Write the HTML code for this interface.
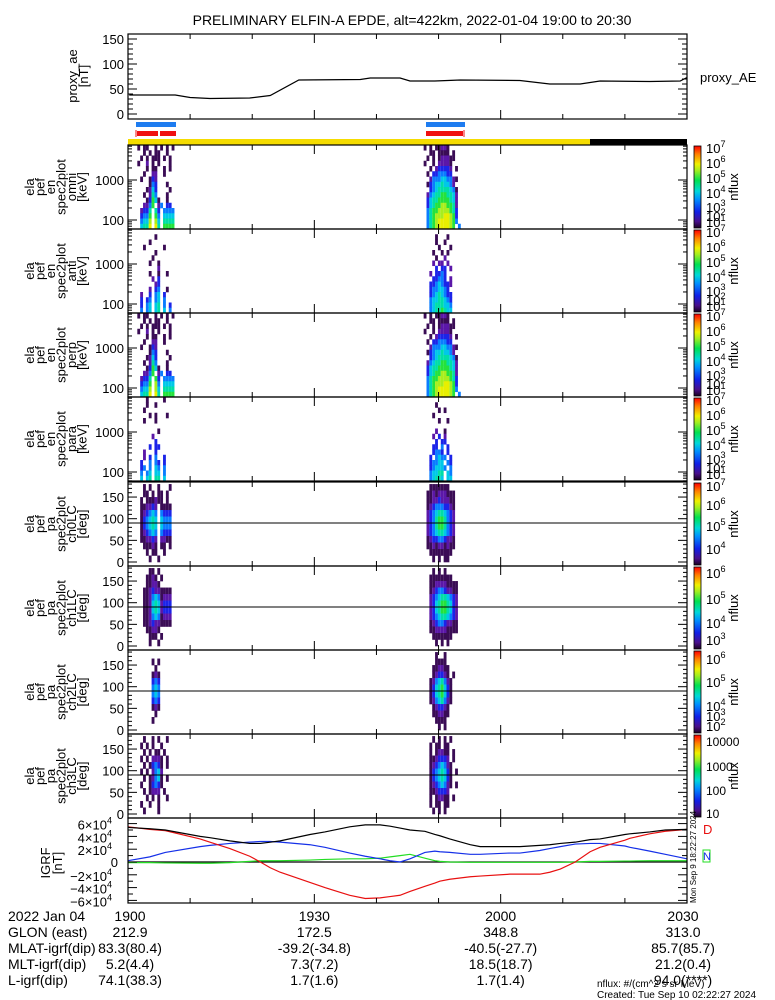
<!DOCTYPE html>
<html><head><meta charset="utf-8">
<style>
html,body{margin:0;padding:0;background:#fff;}
svg{display:block;font-family:"Liberation Sans",sans-serif;}
</style></head>
<body>
<svg id="chart" width="775" height="1000" viewBox="0 0 775 1000" xmlns="http://www.w3.org/2000/svg">
<rect x="0" y="0" width="775" height="1000" fill="#fff"/>
<text x="412" y="25" font-size="14" text-anchor="middle">PRELIMINARY ELFIN-A EPDE, alt=422km, 2022-01-04 19:00 to 20:30</text>
</svg>
<script>
// ---------------- data ----------------
const aeTimes = [0.2,7.6,10,13.2,19.6,22.9,27.5,37.4,39,43.8,45.4,49.4,53.5,63.1,67.9,72.8,76,84,88.9,90];
const aeValues = [38,38,33,31,32,37,68,69,72,72,66,66,68,67,60,60,66,65,66,73];

const igrfTimes = [0,3.5,6,11.6,13.2,16.4,19.6,21.3,22.9,24.5,29.3,31.7,35.7,38.2,40.6,42.2,43.8,45.4,47.8,49.4,50.2,51.8,55.1,56.7,61.5,63.1,66.3,67.9,69.6,72,74.4,76,80,80.8,84,86.5,90];
const igrfTotal = [5.4,5.2,5.0,4.0,3.8,3.3,2.9,2.9,3.1,3.3,4.3,4.7,5.5,5.8,5.8,5.6,5.3,5.0,4.8,4.3,4.1,3.6,2.7,2.4,2.4,2.4,2.6,2.7,2.9,3.1,3.5,3.6,4.3,4.4,4.7,5.0,5.1];
const igrfD = [5.5,5.1,4.9,3.6,3.1,2.1,0.9,0,-0.9,-1.6,-3.2,-4.0,-5.2,-5.7,-5.6,-5.4,-5.2,-4.6,-3.8,-3.3,-3.0,-2.7,-2.3,-2.2,-1.9,-1.9,-1.9,-1.6,-1.1,0,1.6,2.3,3.4,3.7,4.4,4.8,5.1];
const igrfBlue = [0.2,0.8,1.5,2.4,2.6,2.9,3.1,3.2,3.2,3.1,2.7,2.3,1.4,0.9,0.5,0.2,0,0.5,1.5,1.7,1.6,1.5,1.2,1.2,1.4,1.4,1.8,2.1,2.4,2.8,2.9,2.9,2.5,2.3,1.7,1.2,0.5];
const igrfGreen = [-0.1,-0.1,-0.15,-0.2,-0.2,-0.1,0.1,0.2,0.2,0.2,0.3,0.4,0.5,0.5,0.6,0.8,1.0,1.2,0.6,0.2,0.1,0,-0.05,-0.05,-0.05,-0.05,-0.05,-0.05,-0.05,0,0.1,0.1,0.15,0.15,0.2,0.2,0.2];

const igrfTicks = [-6,-4,-2,0,2,4,6];
const aeTicks = [0,50,100,150];
const energyTicks = [100,1000];
const paTicks = [0,50,100,150];
const timeMajors = [0,30,60,90];
const timeLabels = ["1900","1930","2000","2030"];

const passStart = [1.5, 47.6];   // minutes after 19:00 of first column per pass
const colDur = 0.46;             // minutes per spin column

const omniP1 = ["1.11..1.1.1.1","..1.1.11..1..",".1.1.111.1.1.","1..2.1.1...1.","...1.11..1.1.","..1..22..1...",".1..132......","....143...1..","...1253....1.","..1.264...1..","...13751..1..","..2247.24.33.",".2336.63.4444",".3447.74.5555",".4558.85.6666",".5669.96.7777"];
const omniP2 = ["1.1.11221....","..11.1111.1..",".1.1.122211..","1..1.22221...","..1.233332.1.",".1.3344433...","..2444554421.",".1345565542..","..3456666541.",".24566776652.",".35667777652.",".35677887762.",".46778888763.",".46788899873.",".46789999874.",".4678999987.4"];
const antiP1 = [".............","......1......","....1........","..1......1...","......1......",".....1.......","....1..1.....",".......2.....","....1..1..1..",".....2.3.....","......23.....","....2.34..1..",".2..3.45.3...",".3.34.45.4...",".3.45.56.4.3.",".4.45.56.5.4."];
const antiP2 = [".............","....1...1....","....1..1.....",".....1...1...","...1..1.1....","....1..2.....","...2.22.2....","....3.33.2...","..2.3343.....","...33443.2...","..33454332...","..3445543....","..34565433...","..45566543...","..45666554...","..45667655..."];
const perpP1 = ["1.11..1.1.1.1","..1.1.11..1..",".1.1.111.1.1.","1..2.1.1...1.","...1.11..1.1.","..1..22..1...",".1..132......","....143...1..","...1253....1.","..1.264...1..","...13751..1..","..2247.24.33.",".2336.73.4444",".3447.84.5555",".4558.85.6666",".5669.96.7777"];
const perpP2 = ["1.1.11221....","..11.1111.1..",".1.1.122211..","1..1.22221...","..1.233332.1.",".1.3344433...","..2444554421.",".1345565542..","..3456666541.",".24566776652.",".35667777652.",".35677887762.",".46778888763.",".46788899873.",".46789999874.",".4678999987.4"];
const paraP1 = ["...1.....1...","...1..1......","..1..........","....1.1...1..","..1...1......",".............",".......1.....",".....2.......","......3......","....3.33.....","..2...3......","..2.3.4..3...",".3..4.43.3...",".34.4.54.4...",".4.45.55.4...",".5.56.66.5..."];
const paraP2 = [".............","....1........",".....1.1.....","...1.........",".....1..1....",".............","....2..1.....","...2.3.2.....","....3.33.....","...33.4.3....","...3443.3....","..3.4544.3...","..34455.43...","..345554.4...","..45566.54...","..45665.55..."];
const ch0P1 = ["..1.1..1...1.","..11.1.11.1..",".1.111211.1..",".112232.1111.",".123454.4333.",".134565.5444.",".134565.5444.",".123454.4333.",".112232.2211.","..11121.11.1.","...1.11..1...","....1..1....."];
const ch0P2 = ["..1111111....",".1121222111..",".1122322211..",".1234443321..",".2345665432..",".2346776432..",".2346776432..",".2345665432..",".1233443221..",".1121221211..","..11111111...","...1.1.11...."];
const ch1P1 = ["....11.1.....","...1121.1....","...11221.....","..1123221111.","..1124541222.","..1125652333.","..1125652333.","..1124541222.","..1123221111.","...11221.....","....111.1....","....1..1....."];
const ch1P2 = ["...1.1.1.....","..11111111...","..1122221111.","..1234432211.","..2345665432.","..2356776532.","..2356776532.","..2345665432.","..1234432211.","..1122221111.","...1111111...","....1.1.1...."];
const ch2P1 = [".............",".....1.1.....","......1......",".....121.....",".....343.....",".....454.....",".....454.....",".....343.....",".....121.....","......1......",".....1.......","............."];
const ch2P2 = ["....1..1.....","....1111.....","...112211....","...123321.1..","..12456421...","..13567531...","..13567531...","..12456421...","...123321....","...112211....","....1111.....",".....1.1....."];
const ch3P1 = ["..1..1.1..1..",".1.1.1..1....","..1.1.11.1...",".1.1.2221.1..","..1.13431.1..",".1.1.2452....","..1.12451.1..",".1..13431....","..1.1222.1...","...1.1.1..1..",".1..1..1.....","..1....1....."];
const ch3P2 = ["...1.1.1.1...","..1.11.11....","..1.12211.1..","..1123332.1..","..12345421...","..13456531.1.","..13456531...","..12345421.1.","..1123332....","..1.12211.1..","..1.11.11....","...1.1.1....."];

const levelColors = ["#ffffff","#3a0c55","#5b17a8","#1c24e8","#0a7cff","#00c8e8","#00dea6","#24e23c","#a8ee1e","#e8ef00"];

const posNames = ["19:00","19:30","20:00","20:30"];
const glon = ["212.9","172.5","348.8","313.0"];
const mlat = ["83.3(80.4)","-39.2(-34.8)","-40.5(-27.7)","85.7(85.7)"];
const mlt = ["5.2(4.4)","7.3(7.2)","18.5(18.7)","21.2(0.4)"];
const lval = ["74.1(38.3)","1.7(1.6)","1.7(1.4)","94.0(****)"];

// ---------------- helpers ----------------
const NS = "http://www.w3.org/2000/svg";
const svg = document.getElementById("chart");
const X0 = 128, X1 = 687;
function xT(m){ return X0 + m/90*(X1-X0); }
function mk(tag, attrs, parent){
  const e = document.createElementNS(NS, tag);
  for (const k in attrs) e.setAttribute(k, attrs[k]);
  (parent||svg).appendChild(e);
  return e;
}
function line(x1,y1,x2,y2,c,w){ return mk("line",{x1:x1,y1:y1,x2:x2,y2:y2,stroke:c||"#000","stroke-width":w||1}); }
function txt(x,y,s,size,anchor,fill){
  const t = mk("text",{x:x,y:y,"font-size":size||13,"text-anchor":anchor||"start",fill:fill||"#000"});
  t.textContent = s; return t;
}
function pow10(x,y,base,exp,anchor,size){
  const t = mk("text",{x:x,y:y,"font-size":size||13,"text-anchor":anchor||"start"});
  const a = document.createElementNS(NS,"tspan"); a.textContent = base; t.appendChild(a);
  const b = document.createElementNS(NS,"tspan"); b.setAttribute("dy","-6"); b.setAttribute("font-size", (size||13)*0.7); b.textContent = exp; t.appendChild(b);
  return t;
}
function frame(y0,y1){
  mk("rect",{x:X0,y:y0,width:X1-X0,height:y1-y0,fill:"none",stroke:"#000","stroke-width":1.2});
  for (let m=0;m<=90;m+=10){
    const L = timeMajors.indexOf(m)>=0 ? 9 : 5;
    line(xT(m),y1,xT(m),y1-L); line(xT(m),y0,xT(m),y0+L);
  }
}
function yTick(y,L){ line(X0,y,X0+L,y); line(X1,y,X1-L,y); }
function leftLabel(lines, cy, xStart, step){
  lines.forEach((s,i)=>{
    const x = xStart + i*step;
    const t = mk("text",{x:x,y:cy,"font-size":13,"text-anchor":"middle",transform:"rotate(-90 "+x+" "+cy+")"});
    t.textContent = s;
  });
}
function colorbar(y0,y1,labels,name){
  const g = mk("rect",{x:694,y:y0+1,width:7,height:y1-y0-2,fill:"url(#cbgrad)",stroke:"#000","stroke-width":0.8});
  
  
  labels.forEach(l=>{
    if (l[2]) { txt(706,y0+l[1],l[0],12); } else { pow10(706,y0+l[1],"10",l[0],"start",13); }
  });
  const cy=(y0+y1)/2;
  const t = mk("text",{x:738,y:cy,"font-size":13,"text-anchor":"middle",transform:"rotate(-90 738 "+cy+")"});
  t.textContent="nflux";
}

// gradient defs
const defs = mk("defs",{});
const grad = mk("linearGradient",{id:"cbgrad",x1:0,y1:1,x2:0,y2:0},defs);
[["0","#1a0020"],["0.08","#4a0f8c"],["0.2","#1020e8"],["0.35","#0090ff"],["0.45","#00d8d8"],["0.58","#00e050"],["0.7","#a0ee20"],["0.78","#f0f000"],["0.9","#ff8000"],["1","#ff0000"]].forEach(s=>mk("stop",{offset:s[0],"stop-color":s[1]},grad));

// ---------------- proxy AE panel ----------------
(function(){
  const y0=34,y1=119;
  const yV = v => 114 - v*0.5;
  const pts = aeTimes.map((t,i)=> xT(t)+","+yV(aeValues[i])).join(" ");
  const pl = mk("polyline",{points:pts,fill:"none",stroke:"#000","stroke-width":1.2});
  
  
  frame(y0,y1);
  for (let v=0; v<=150; v+=10){ yTick(yV(v), v%50===0?9:5); }
  aeTicks.forEach(v=> txt(124,yV(v)+5,String(v),13,"end"));
  leftLabel(["proxy_ae","[nT]"],76,77,11);
  const lab = txt(700,82,"proxy_AE",13);
  
  
})();

// ---------------- status bars ----------------
(function(){
  const b1 = mk("rect",{x:136,y:122,width:40,height:5,fill:"#1e7cf0"});
  
  
  const b2 = mk("rect",{x:426,y:122,width:39,height:5,fill:"#1e7cf0"});
  
  
  const r1 = mk("rect",{x:137,y:131,width:21,height:5,fill:"#f01010"});
  
  
  const r2 = mk("rect",{x:160,y:131,width:16,height:5,fill:"#f01010"});
  
  
  const r3 = mk("rect",{x:426,y:131,width:37,height:5,fill:"#f01010"});
  
  
  line(136,130,136,137,"#f01010",1); line(464,130,464,137,"#f01010",1);
  const y = mk("rect",{x:128,y:139,width:462,height:6,fill:"#f5dc00"});
  
  
  const k = mk("rect",{x:590,y:139,width:97,height:6,fill:"#000"});
  
  
})();

// ---------------- spectrogram panels ----------------
function drawCells(mats, y0, rowTop, rowH){
  mats.forEach((mat,p)=>{
    mat.forEach((row,r)=>{
      for (let c=0;c<row.length;c++){
        const ch = row[c]; if (ch==='.') continue;
        const lv = +ch; const xa = xT(passStart[p]+c*colDur), xb = xT(passStart[p]+(c+1)*colDur);
        const cell = mk("rect",{x:xa,y:rowTop(r),width:xb-xa,height:rowH+0.3,fill:levelColors[lv]});
        
        
      }
    });
  });
}
const specTops = [145,229,313,397];
const specNames = ["omni","anti","perp","para"];
const specMats = [[omniP1,omniP2],[antiP1,antiP2],[perpP1,perpP2],[paraP1,paraP2]];
const specCB = [[["7",8],["6",23],["5",38],["4",53],["3",67],["2",76],["1",82]],
                [["7",8],["6",23],["5",38],["4",53],["3",67],["2",76],["1",82]],
                [["7",8],["6",23],["5",38],["4",53],["3",67],["2",76],["1",82]],
                [["7",8],["6",23],["5",38],["4",53],["3",67],["2",76],["1",82]]];
specTops.forEach((y0,i)=>{
  const y1 = y0+84;
  const eY = logE => y0+75 - (logE-2)*40;
  const rows = 16, lo = 1.775, hi = 3.875, d = (hi-lo)/rows;
  drawCells(specMats[i], y0, r => eY(hi - r*d), d*40);
  frame(y0,y1);
  for (let dec=1; dec<=3; dec++){
    for (let k=1;k<=9;k++){
      const le = dec + Math.log10(k);
      if (le<lo||le>hi) continue;
      yTick(eY(le), k===1?9:4);
    }
  }
  energyTicks.forEach(v=> txt(124,eY(Math.log10(v))+5,String(v),13,"end"));
  leftLabel(["ela","pef","en","spec2plot",specNames[i],"[keV]"], y0+42, 34, 10.5);
  colorbar(y0,y1,specCB[i],"colorbar-"+specNames[i]);
});

const paTops = [482,566,650,734];
const paNames = ["ch0LC","ch1LC","ch2LC","ch3LC"];
const paMats = [[ch0P1,ch0P2],[ch1P1,ch1P2],[ch2P1,ch2P2],[ch3P1,ch3P2]];
const paCB = [[["7",9],["6",28],["5",49],["4",72]],
              [["6",12],["5",38],["4",62],["3",79]],
              [["6",14],["5",37],["4",61],["3",71],["2",81]],
              [["10000",12,1],["1000",37,1],["100",61,1],["10",84,1]]];
paTops.forEach((y0,i)=>{
  const y1 = y0+84;
  const pY = pa => y1-4 - pa*0.433;
  const rows = 12, dp = 15;
  drawCells(paMats[i], y0, r => pY(180 - r*dp), dp*0.433);
  frame(y0,y1);
  const l90 = line(X0,pY(90),X1,pY(90),"#000",1);
  
  
  for (let v=0; v<=180; v+=10) yTick(pY(v), v%50===0?9:4);
  paTicks.forEach(v=> txt(124,pY(v)+5,String(v),13,"end"));
  leftLabel(["ela","pef","pa","spec2plot",paNames[i],"[deg]"], y0+42, 34, 10.5);
  colorbar(y0,y1,paCB[i],"colorbar-"+paNames[i]);
});

// ---------------- IGRF panel ----------------
(function(){
  const y0=818,y1=903;
  const yV = v => 862 - v*6.4;
  line(X0,yV(0),X1,yV(0),"#000",1.2);
  const series = [[igrfGreen,"#22dd22","igrf-n-line"],[igrfBlue,"#1530e8","igrf-blue-line"],[igrfD,"#e81010","igrf-d-line"],[igrfTotal,"#000","igrf-total-line"]];
  series.forEach(s=>{
    const pts = igrfTimes.map((t,i)=> xT(t)+","+yV(s[0][i])).join(" ");
    const pl = mk("polyline",{points:pts,fill:"none",stroke:s[1],"stroke-width":1.2});
    
    
  });
  frame(y0,y1);
  for (let v=-6; v<=6; v+=1) yTick(yV(v), v%2===0?9:5);
  igrfTicks.forEach(v=>{
    if (v===0) txt(118,yV(v)+5,"0",13,"end");
    else pow10(112,yV(v)+6,(v<0?"\u2212":"")+Math.abs(v)+"\u00d710","4","end",13);
  });
  leftLabel(["IGRF","[nT]"],863,50,12);
  const D = txt(703,834,"D",13,"start","#e81010");
  
  
  mk("rect",{x:703,y:850,width:7,height:12,fill:"none",stroke:"#22dd22","stroke-width":1});
  const N = txt(703,860,"N",11,"start","#1530e8");
  
  
  const st = mk("text",{x:696,y:903,"font-size":8,transform:"rotate(-90 696 903)"});
  st.textContent = "Mon Sep  9 18:22:27 2024";
})();

// ---------------- bottom annotation ----------------
(function(){
  const rows = [["2022 Jan 04",timeLabels],["GLON (east)",glon],["MLAT-igrf(dip)",mlat],["MLT-igrf(dip)",mlt],["L-igrf(dip)",lval]];
  rows.forEach((r,i)=>{
    const y = 921 + i*16;
    txt(8,y,r[0],14);
    r[1].forEach((v,j)=>{
      const x = j===0 ? 130 : (j===3 ? 683 : xT(timeMajors[j]));
      txt(x,y,v,14,"middle");
    });
  });
  txt(597,987,"nflux: #/(cm^2 s sr MeV)",10);
  txt(597,998,"Created: Tue Sep 10 02:22:27 2024",10);
})();
</script>
</body></html>
